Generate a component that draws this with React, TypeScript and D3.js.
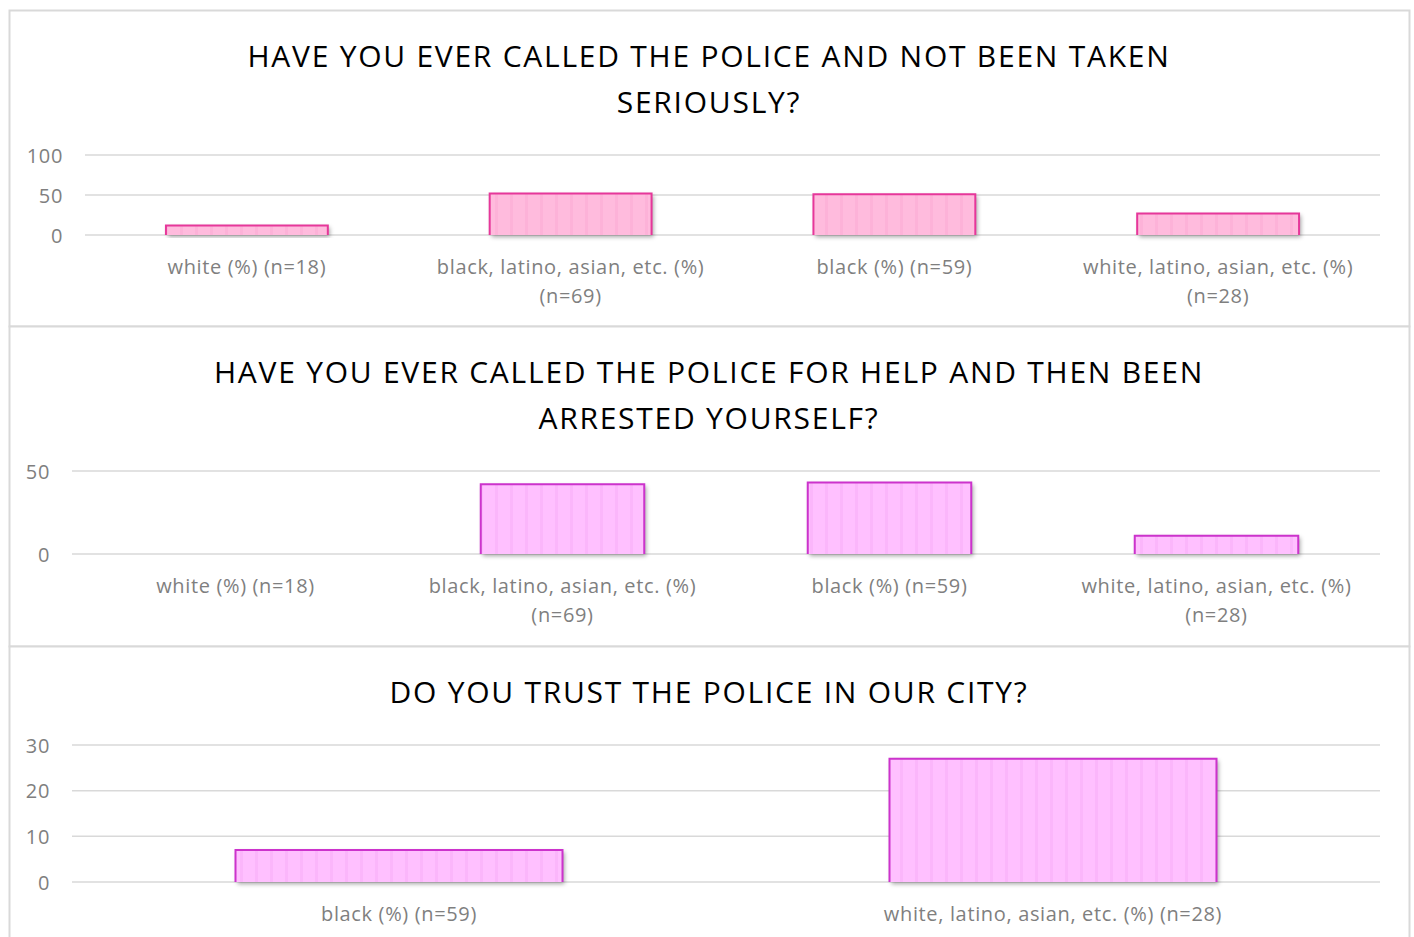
import React from "react";
import * as d3 from "d3";

const catsA = ["white (%) (n=18)", "black, latino, asian, etc. (%) (n=69)", "black (%) (n=59)", "white, latino, asian, etc. (%) (n=28)"];
const valuesA = [12, 52, 51, 27];
const ticksA = [0, 50, 100];
const titleA = ["HAVE YOU EVER CALLED THE POLICE AND NOT BEEN TAKEN", "SERIOUSLY?"];

const catsB = ["white (%) (n=18)", "black, latino, asian, etc. (%) (n=69)", "black (%) (n=59)", "white, latino, asian, etc. (%) (n=28)"];
const valuesB = [0, 42, 43, 11];
const ticksB = [0, 50];
const titleB = ["HAVE YOU EVER CALLED THE POLICE FOR HELP AND THEN BEEN", "ARRESTED YOURSELF?"];

const catsC = ["black (%) (n=59)", "white, latino, asian, etc. (%) (n=28)"];
const valuesC = [7, 27];
const ticksC = [0, 10, 20, 30];
const titleC = ["DO YOU TRUST THE POLICE IN OUR CITY?"];

const FONT = "'Open Sans', sans-serif";
const LABEL_SIZE = 20;
const LABEL_LS = 0.65;
const TITLE_SIZE = 30;
const TITLE_LS = 1.75;

function measure(text: string, size: number) {
  const c = document.createElement("canvas").getContext("2d")!;
  c.font = `${size}px 'Open Sans'`;
  return c.measureText(text).width + text.length * LABEL_LS;
}

function wrap(text: string, width: number, size: number) {
  const words = text.split(" ");
  const lines: string[] = [];
  let cur = "";
  for (const w of words) {
    const t = cur ? cur + " " + w : w;
    if (measure(t, size) > width && cur) {
      lines.push(cur);
      cur = w;
    } else cur = t;
  }
  if (cur) lines.push(cur);
  return lines;
}

type PanelProps = {
  top: number; bottom: number;
  title: string[]; titleY: number;
  cats: string[]; values: number[]; ticks: number[];
  plotL: number; plotR: number; plotT: number; plotB: number;
  labelY: number; fill: string; stroke: string; pid: string;
};

function Panel(p: PanelProps) {
  const x = d3.scaleBand<string>().domain(p.cats).range([p.plotL, p.plotR]).paddingInner(0.5).paddingOuter(0.25);
  const y = d3.scaleLinear().domain([0, p.ticks[p.ticks.length - 1]]).range([p.plotB, p.plotT]);
  const step = x.step();
  return (
    <g>
      <defs>
        <pattern id={`stripe-${p.pid}`} patternUnits="userSpaceOnUse" width={15} height={10}>
          <rect width={15} height={10} fill={p.fill} />
          <rect x={0} width={3} height={10} fill={p.stroke} opacity={0.07} />
        </pattern>
      </defs>
      <rect x={9.5} y={p.top + 0.5} width={1400} height={p.bottom - p.top} fill="#fff" stroke="#d9d9d9" strokeWidth={2} />
      {p.title.map((t, i) => (
        <text key={i} x={709} y={p.titleY + i * 46} textAnchor="middle" dominantBaseline="central" fontFamily={FONT} fontSize={TITLE_SIZE} letterSpacing={TITLE_LS} fill="#000">{t}</text>
      ))}
      {p.ticks.map((t) => (
        <g key={t}>
          <line x1={p.plotL} x2={p.plotR} y1={y(t)} y2={y(t)} stroke="#d9d9d9" strokeWidth={1.5} />
          <text x={p.plotL - 22} y={y(t)} textAnchor="end" dominantBaseline="central" fontFamily={FONT} fontSize={LABEL_SIZE} letterSpacing={LABEL_LS} fill="#7f7f7f">{t}</text>
        </g>
      ))}
      {p.cats.map((c, i) => {
        const bx = x(c)!;
        const bw = x.bandwidth();
        const by = y(p.values[i]);
        const h = p.plotB - by;
        const lines = wrap(c, step - 10, LABEL_SIZE);
        return (
          <g key={c}>
            {h > 0 && (
              <g>
                <rect x={bx} y={by} width={bw} height={h} fill={`url(#stripe-${p.pid})`} filter="url(#shadow)" />
                <path d={`M${bx},${p.plotB}V${by}H${bx + bw}V${p.plotB}`} fill="none" stroke={p.stroke} strokeWidth={2} />
              </g>
            )}
            {lines.map((l, j) => (
              <text key={j} x={bx + bw / 2} y={p.labelY + j * 29} textAnchor="middle" dominantBaseline="central" fontFamily={FONT} fontSize={LABEL_SIZE} letterSpacing={LABEL_LS} fill="#7f7f7f">{l}</text>
            ))}
          </g>
        );
      })}
    </g>
  );
}

export default function App() {
  return (
    <svg width={1414} height={937} style={{ position: "absolute", left: 0, top: 0 }}>
      <defs>
        <filter id="shadow" x="-5%" y="-20%" width="115%" height="150%">
          <feDropShadow dx={2} dy={2} stdDeviation={2} floodColor="#000" floodOpacity={0.35} />
        </filter>
      </defs>
      <rect width={1414} height={937} fill="#fff" />
      <Panel pid="a" top={10} bottom={326} title={titleA} titleY={55} cats={catsA} values={valuesA} ticks={ticksA}
        plotL={85} plotR={1380} plotT={155} plotB={235} labelY={266} fill="#ffbbdd" stroke="#e6379a" />
      <Panel pid="b" top={326} bottom={646} title={titleB} titleY={371} cats={catsB} values={valuesB} ticks={ticksB}
        plotL={72} plotR={1380} plotT={471} plotB={554} labelY={585} fill="#ffc0ff" stroke="#cc33cc" />
      <Panel pid="c" top={646} bottom={960} title={titleC} titleY={691} cats={catsC} values={valuesC} ticks={ticksC}
        plotL={72} plotR={1380} plotT={745} plotB={882} labelY={913} fill="#ffc0ff" stroke="#cc33cc" />
    </svg>
  );
}
